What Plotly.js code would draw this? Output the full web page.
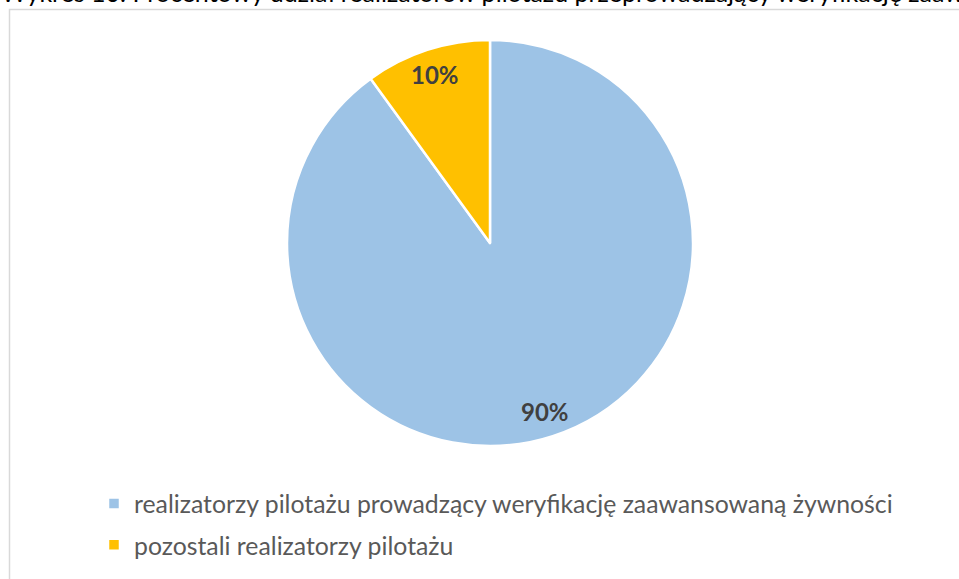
<!DOCTYPE html>
<html>
<head>
<meta charset="utf-8">
<script src="https://cdn.plot.ly/plotly-3.0.1.min.js"></script>
<style>html,body{margin:0;padding:0;background:#fff;overflow:hidden}</style>
</head>
<body>
<div id="chart" style="width:959px;height:579px"></div>
<script>
const chartTitle = "Wykres 10. Procentowy udział realizatorów pilotażu przeprowadzający weryfikację zaawansowaną żywności";
const categories = ["realizatorzy pilotażu prowadzący weryfikację zaawansowaną żywności", "pozostali realizatorzy pilotażu"];
const values = [90, 10];
const valueLabels = ["90%", "10%"];
const colors = ["#9DC3E6", "#FFC000"];

const W = 959, H = 579;
const cx = 490, cy = 243, R = 203;
const dom = {x: [(cx - R) / W, (cx + R) / W], y: [1 - (cy + R) / H, 1 - (cy - R) / H]};
const FONT = "Lato, Carlito, Calibri, sans-serif";

// label positions computed from the data (clockwise from 12 o'clock)
const total = values.reduce((a, b) => a + b, 0);
let cum = 0;
const annotations = [];
values.forEach((v, i) => {
  const mid = (cum + v / 2) / total * 2 * Math.PI;
  cum += v;
  const px = cx + 0.875 * R * Math.sin(mid);
  const py = cy - 0.875 * R * Math.cos(mid);
  annotations.push({
    x: px / W, y: 1 - py / H, xref: "paper", yref: "paper",
    xanchor: "center", yanchor: "middle",
    text: "<b>" + valueLabels[i] + "</b>", showarrow: false,
    font: {family: FONT, size: 24, color: "#404040"}
  });
});
annotations.push({
  x: 0, y: 1 - 8 / H, xref: "paper", yref: "paper", xanchor: "left", yanchor: "bottom",
  text: chartTitle, showarrow: false, borderpad: 0,
  font: {family: FONT, size: 25, color: "#000"}
});

const data = [{
  type: "pie",
  labels: categories,
  values: values,
  marker: {colors: colors, line: {color: "#ffffff", width: 2.5}},
  sort: false,
  direction: "clockwise",
  rotation: 0,
  textinfo: "none",
  hoverinfo: "label+percent",
  domain: dom
}, {
  // empty spacer entry so the legend keeps its rows apart (nothing is drawn)
  type: "scatter", x: [null], y: [null], mode: "none", name: "",
  legendgroup: "spacer", showlegend: true, hoverinfo: "skip"
}];

const layout = {
  width: W, height: H,
  margin: {l: 0, r: 0, t: 0, b: 0, autoexpand: false},
  paper_bgcolor: "#ffffff",
  plot_bgcolor: "rgba(0,0,0,0)",
  xaxis: {visible: false, fixedrange: true},
  yaxis: {visible: false, fixedrange: true},
  showlegend: true,
  legend: {
    x: 94 / W, y: 1 - 481 / H, xanchor: "left", yanchor: "top",
    orientation: "v",
    traceorder: "grouped",
    tracegroupgap: 6,
    font: {family: FONT, size: 24.8, color: "#595959"},
    bgcolor: "rgba(0,0,0,0)"
  },
  annotations: annotations,
  shapes: [{
    type: "rect", xref: "paper", yref: "paper",
    x0: 9.5 / W, x1: 1.05, y0: -0.05, y1: 1 - 9.5 / H,
    line: {color: "#D9D9D9", width: 1.5}, fillcolor: "rgba(0,0,0,0)"
  }]
};

Plotly.newPlot("chart", data, layout, {displayModeBar: false, staticPlot: true});
</script>
</body>
</html>
